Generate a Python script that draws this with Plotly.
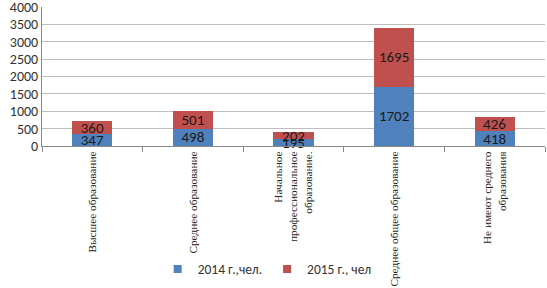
import plotly.graph_objects as go

categories = [
    "Высшее образование",
    "Среднее образование",
    "Начальное<br>профессиональное<br>образование.",
    "Среднее общее образование",
    "Не имеют среднего<br>образования",
]
values_2014 = [347, 498, 195, 1702, 418]
values_2015 = [360, 501, 202, 1695, 426]
series_names = ["2014 г.,чел.", "2015 г., чел"]
colors = ["#4F81BD", "#C0504D"]
y_ticks = [0, 500, 1000, 1500, 2000, 2500, 3000, 3500, 4000]

label_font = dict(family="Carlito, Liberation Sans, sans-serif", size=15, color="#1a1a1a")

fig = go.Figure()
for vals, name, col in zip([values_2014, values_2015], series_names, colors):
    fig.add_trace(go.Bar(
        x=categories, y=vals, name=name, showlegend=False,
        marker=dict(color=col, line=dict(width=0)),
        text=vals, textposition="inside", insidetextanchor="middle",
        constraintext="none", cliponaxis=False,
        textfont=label_font,
    ))
# small square legend markers
for name, col in zip(series_names, colors):
    fig.add_trace(go.Scatter(
        x=[None], y=[None], mode="markers", name=name,
        marker=dict(symbol="square", size=8, color=col),
    ))

fig.update_layout(
    barmode="stack",
    bargap=0.6,
    width=547, height=288,
    margin=dict(l=42, r=2, t=7, b=142, autoexpand=False),
    paper_bgcolor="white", plot_bgcolor="white",
    legend=dict(
        orientation="h", x=0.23, xanchor="left", y=-0.886, yanchor="middle",
        font=dict(family="Carlito, Liberation Sans, sans-serif", size=13.5, color="#333"),
        traceorder="normal", itemwidth=30, tracegroupgap=0,
    ),
)
fig.update_yaxes(
    range=[0, 4000], tickvals=y_ticks,
    showgrid=True, gridcolor="#bdbdbd", gridwidth=1,
    showline=True, linecolor="#888", linewidth=1,
    tickfont=dict(family="Carlito, Liberation Sans, sans-serif", size=14, color="#333"),
    ticks="", zeroline=False, ticklabeloverflow="allow",
)
fig.update_xaxes(
    showline=True, linecolor="#888", linewidth=1, mirror=False,
    ticks="outside", tickson="boundaries", ticklen=5, tickcolor="#888",
    tickangle=-90,
    tickfont=dict(family="Liberation Serif, serif", size=11.3, color="#222"),
)

fig.write_html("out.html")
